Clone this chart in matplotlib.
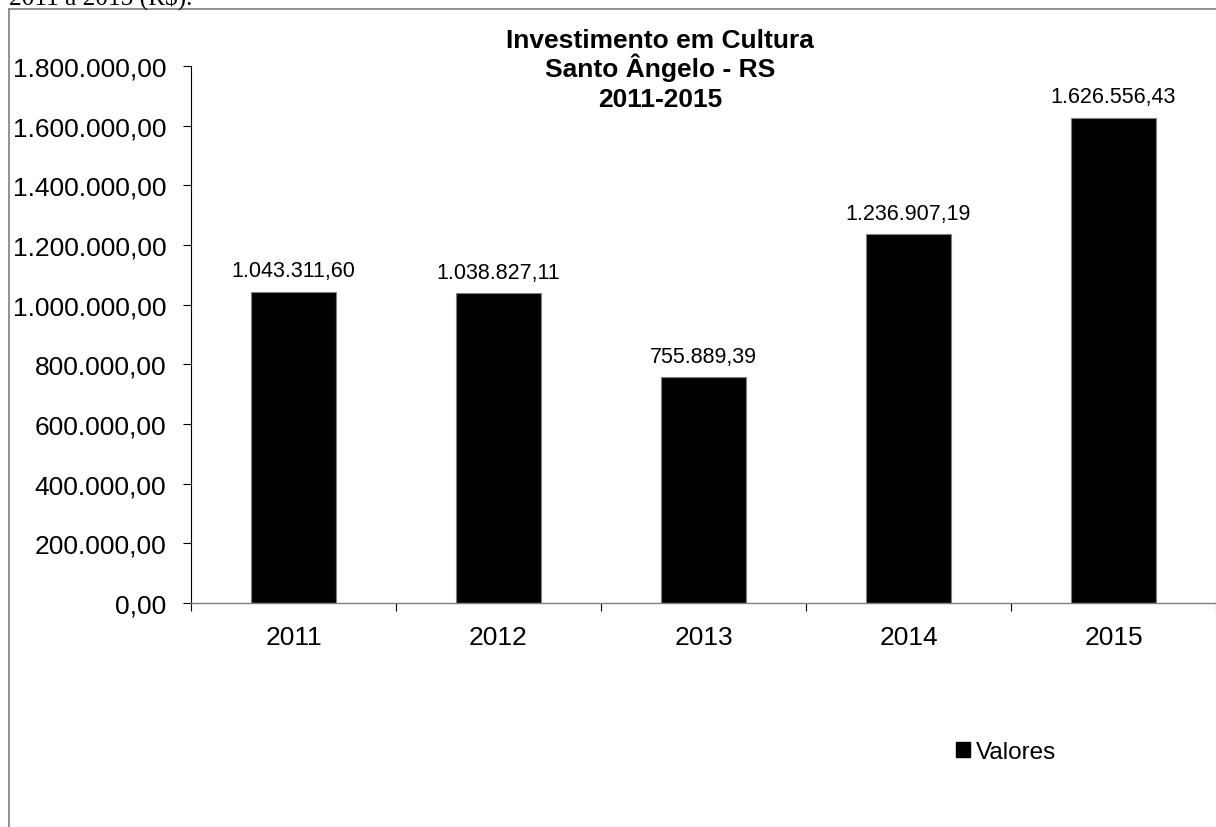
import matplotlib
matplotlib.use("Agg")
import matplotlib.pyplot as plt
from matplotlib.lines import Line2D
from matplotlib.patches import Patch
from matplotlib.ticker import FuncFormatter, FixedLocator

# Investimento anual em cultura (R$)
anos = ['2011', '2012', '2013', '2014', '2015']
valores = [1043311.60, 1038827.11, 755889.39, 1236907.19, 1626556.43]
y_ticks = [0, 200000, 400000, 600000, 800000, 1000000, 1200000, 1400000, 1600000, 1800000]
titulo = ['Investimento em Cultura', 'Santo Ângelo - RS', '2011-2015']

W, H = 1216, 828


def brl(v):
    s = f"{v:,.2f}"
    return s.replace(",", "_").replace(".", ",").replace("_", ".")


plt.rcParams['font.family'] = ['Liberation Sans', 'DejaVu Sans']

fig = plt.figure(figsize=(W / 100, H / 100), dpi=100)
fig.patch.set_facecolor('white')

# plot area in pixel terms
left, right, bottom, top = 191, 1216, 604, 67
ax = fig.add_axes([left / W, 1 - bottom / H, (right - left) / W, (bottom - top) / H])

x = list(range(len(anos)))
ax.bar(x, valores, width=0.41, color='black', edgecolor='#808080', linewidth=0.8, label='Valores')

for xi, v in zip(x, valores):
    ax.annotate(brl(v), (xi, v), xytext=(0, 11), textcoords='offset points',
                ha='center', va='baseline', fontsize=15.5)

ax.set_xlim(-0.5, len(anos) - 0.5)
ax.set_ylim(0, 1800000)
ax.set_yticks(y_ticks)
ax.yaxis.set_major_formatter(FuncFormatter(lambda v, p: brl(v)))
ax.set_xticks(x)
ax.set_xticklabels(anos)
ax.xaxis.set_minor_locator(FixedLocator([i - 0.5 for i in range(len(anos) + 1)]))

ax.tick_params(axis='y', direction='out', length=5.8, width=0.8, color='black',
               labelsize=19, pad=12)
ax.tick_params(axis='x', which='major', length=0, labelsize=19, pad=16)
ax.tick_params(axis='x', which='minor', direction='out', length=5.8, width=0.8, color='black')

ax.spines['top'].set_visible(False)
ax.spines['right'].set_visible(False)
ax.spines['left'].set_color('black')
ax.spines['left'].set_linewidth(0.8)
ax.spines['bottom'].set_color('#808080')
ax.spines['bottom'].set_linewidth(1.0)

# title lines, placed by baseline so the accent doesn't shift spacing
for i, linha in enumerate(titulo):
    fig.text(660 / W, 1 - (48 + 29.5 * i) / H, linha,
             ha='center', va='baseline', fontsize=19, fontweight='bold')

# caption line running off the top edge
fig.text(9 / W, 1 - 5 / H, '2011 a 2015 (R$).', family=['Liberation Serif', 'DejaVu Serif'],
         fontsize=18.2, ha='left', va='baseline')

# chart frame (left and top edges only fall inside the figure)
frame = dict(color='#7f7f7f', linewidth=1.2, transform=fig.transFigure, clip_on=False)
fig.add_artist(Line2D([9 / W, 9 / W], [0 - 0.01, 1 - 10 / H], **frame))
fig.add_artist(Line2D([9 / W, 1.01], [1 - 10 / H, 1 - 10 / H], **frame))

handle = Patch(facecolor='black', edgecolor='black')
fig.legend([handle], ['Valores'], loc='center left', bbox_to_anchor=(956 / W, 1 - 753 / H),
           frameon=False, fontsize=17.5, handlelength=0.58, handleheight=0.58,
           handletextpad=0.25, borderpad=0, borderaxespad=0)

fig.savefig('out.png', dpi=100, facecolor='white')
